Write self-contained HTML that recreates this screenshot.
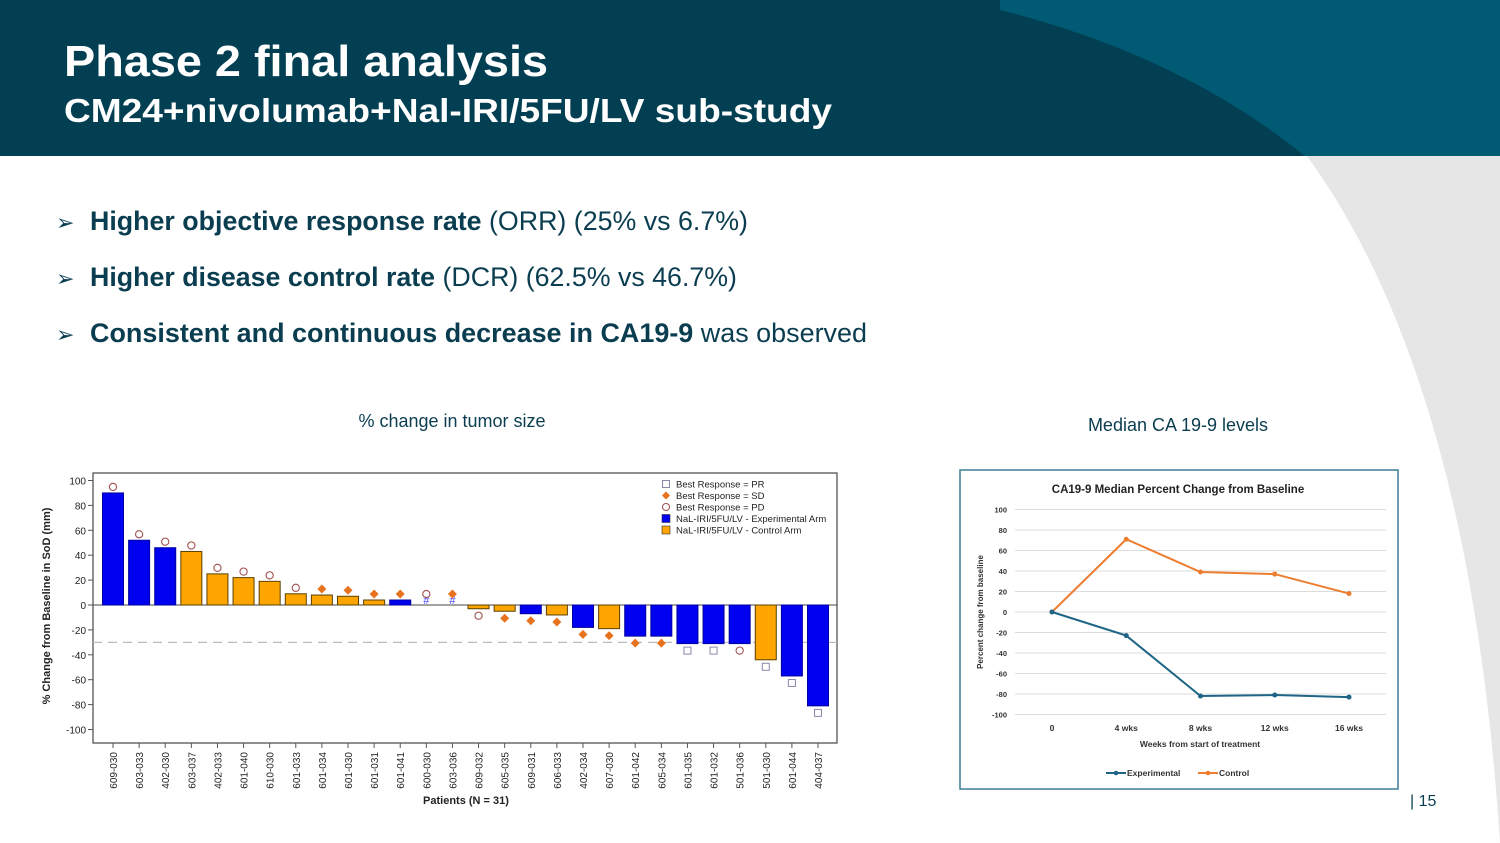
<!DOCTYPE html>
<html><head><meta charset="utf-8"><style>
html,body{margin:0;padding:0;background:#fff;}
svg{display:block;font-family:"Liberation Sans",sans-serif;}
</style></head><body>
<svg id="s" width="1500" height="843" viewBox="0 0 1500 843" xmlns="http://www.w3.org/2000/svg">
<path d="M1307,156 Q1470,380 1500,843 L1500,156 Z" fill="#e6e6e6"/>
<rect x="0" y="0" width="1500" height="156" fill="#005a73"/>
<path d="M0,0 L1000,0 L1000,10 Q1180,55 1305,156 L0,156 Z" fill="#033f52"/>
<text x="64" y="76" font-size="44" font-weight="bold" fill="#fff" textLength="484" lengthAdjust="spacingAndGlyphs">Phase 2 final analysis</text>
<text x="64" y="122" font-size="33" font-weight="bold" fill="#fff" textLength="768" lengthAdjust="spacingAndGlyphs">CM24+nivolumab+Nal-IRI/5FU/LV sub-study</text>
<g fill="#0b3d50" font-size="27">
<text x="56" y="230" font-size="22">➢</text>
<text x="90" y="230" textLength="658" lengthAdjust="spacingAndGlyphs"><tspan font-weight="bold">Higher objective response rate</tspan> (ORR) (25% vs 6.7%)</text>
<text x="56" y="286" font-size="22">➢</text>
<text x="90" y="286" textLength="647" lengthAdjust="spacingAndGlyphs"><tspan font-weight="bold">Higher disease control rate</tspan> (DCR) (62.5% vs 46.7%)</text>
<text x="56" y="342" font-size="22">➢</text>
<text x="90" y="342" textLength="777" lengthAdjust="spacingAndGlyphs"><tspan font-weight="bold">Consistent and continuous decrease in CA19-9</tspan> was observed</text>
</g>
<text x="452" y="427" font-size="18" fill="#0b3d50" text-anchor="middle">% change in tumor size</text>
<text x="1178" y="431" font-size="18" fill="#0b3d50" text-anchor="middle">Median CA 19-9 levels</text>
<text x="1410" y="806" font-size="16" fill="#0b3d50">| 15</text>
<g id="wf"></g>
<g id="lc"></g>
</svg>
<script>
const patients=["609-030","603-033","402-030","603-037","402-033","601-040","610-030","601-033","601-034","601-030","601-031","601-041","600-030","603-036","609-032","605-035","609-031","606-033","402-034","607-030","601-042","605-034","601-035","601-032","501-036","501-030","601-044","404-037"];
const changes=[90,52,46,43,25,22,19,9,8,7,4,4,0,0,-3,-5,-7,-8,-18,-19,-25,-25,-31,-31,-31,-44,-57,-81];
const arms=["E","E","E","C","C","C","C","C","C","C","C","E","E","C","C","C","E","C","E","C","E","E","E","E","E","C","E","E"];
const responses=["PD","PD","PD","PD","PD","PD","PD","PD","SD","SD","SD","SD","PD","SD","PD","SD","SD","SD","SD","SD","SD","SD","PR","PR","PD","PR","PR","PR"];
const wfTicks=[100,80,60,40,20,0,-20,-40,-60,-80,-100];
const weeks=["0","4 wks","8 wks","12 wks","16 wks"];
const expVals=[0,-23,-82,-81,-83];
const ctrlVals=[0,71,39,37,18];
const lcTicks=[100,80,60,40,20,0,-20,-40,-60,-80,-100];

const NS="http://www.w3.org/2000/svg";
function mk(p,tag,a,txt){const e=document.createElementNS(NS,tag);for(const k in a)e.setAttribute(k,a[k]);if(txt!==undefined)e.textContent=txt;p.appendChild(e);return e;}

// waterfall
const wf=document.getElementById('wf');
const L=93,R=837,T=473,B=743;
const wy=v=>605-v*1.245;
const wx=i=>113+i*(818-113)/(patients.length-1);
let e=mk(wf,'rect',{x:L,y:T,width:R-L,height:B-T,fill:'#fff',stroke:'#555','stroke-width':1.3});


wfTicks.forEach(t=>{
  let g=mk(wf,'line',{x1:L-5,x2:L,y1:wy(t),y2:wy(t),stroke:'#555'});
  
  
  let tx=mk(wf,'text',{x:L-7,y:wy(t)+4,'font-size':10,'text-anchor':'end',fill:'#222'},t);
  
  
});
e=mk(wf,'line',{x1:L,x2:R,y1:wy(-30),y2:wy(-30),stroke:'#bbb','stroke-dasharray':'9,6','stroke-width':1.2});


e=mk(wf,'line',{x1:L,x2:R,y1:wy(0),y2:wy(0),stroke:'#444'});


patients.forEach((p,i)=>{
  const v=changes[i],x=wx(i),w=21;
  if(v!==0){
    let b=mk(wf,'rect',{x:x-w/2,y:Math.min(wy(v),wy(0)),width:w,height:Math.abs(wy(v)-wy(0)),fill:arms[i]==='E'?'#0000f0':'#ffa500',stroke:arms[i]==='E'?'#0000a0':'#5a4000','stroke-width':1});
    
    
  } else {
    let h=mk(wf,'text',{x:x,y:wy(0)-1,'font-size':11,'text-anchor':'middle',fill:'#4444ff'},'#');
    
    
  }
  const my=v>0?wy(v)-6:(v<0?wy(v)+7:wy(0)-11);
  let m;
  if(responses[i]==='PD') m=mk(wf,'circle',{cx:x,cy:my,r:3.6,fill:'none',stroke:'#a05050','stroke-width':1.1});
  else if(responses[i]==='SD') m=mk(wf,'path',{d:`M${x},${my-4.5}L${x+4.5},${my}L${x},${my+4.5}L${x-4.5},${my}Z`,fill:'#e8731e'});
  else m=mk(wf,'rect',{x:x-3.5,y:my-3.5,width:7,height:7,fill:'#fff',stroke:'#8888aa','stroke-width':1});
  
  
  let tk=mk(wf,'line',{x1:x,x2:x,y1:B,y2:B+5,stroke:'#555'});
  
  
  let lb=mk(wf,'text',{x:0,y:0,'font-size':10,'text-anchor':'end',fill:'#222',transform:`translate(${x+4},${B+9}) rotate(-90)`},p);
  
  
});
e=mk(wf,'text',{x:0,y:0,'font-size':11,'font-weight':'bold','text-anchor':'middle',fill:'#222',transform:`translate(50,606) rotate(-90)`},'% Change from Baseline in SoD (mm)');


e=mk(wf,'text',{x:466,y:804,'font-size':11,'font-weight':'bold','text-anchor':'middle',fill:'#222'},'Patients (N = 31)');


const leg=[['PR','Best Response = PR'],['SD','Best Response = SD'],['PD','Best Response = PD'],['E','NaL-IRI/5FU/LV - Experimental Arm'],['C','NaL-IRI/5FU/LV - Control Arm']];
leg.forEach((l,k)=>{
  const y=484+k*11.5,x=666;
  let m;
  if(l[0]==='PR') m=mk(wf,'rect',{x:x-3.5,y:y-3.5,width:7,height:7,fill:'#fff',stroke:'#8888aa'});
  else if(l[0]==='SD') m=mk(wf,'path',{d:`M${x},${y-4}L${x+4},${y}L${x},${y+4}L${x-4},${y}Z`,fill:'#e8731e'});
  else if(l[0]==='PD') m=mk(wf,'circle',{cx:x,cy:y,r:3.5,fill:'none',stroke:'#a05050'});
  else m=mk(wf,'rect',{x:x-4,y:y-4,width:8,height:8,fill:l[0]==='E'?'#0000f0':'#ffa500',stroke:'#333','stroke-width':0.6});
  
  
  let t=mk(wf,'text',{x:x+10,y:y+3.5,'font-size':9.5,fill:'#222'},l[1]);
  
  
});

// line chart
const lc=document.getElementById('lc');
e=mk(lc,'rect',{x:960,y:470,width:438,height:319,fill:'#fff',stroke:'#3d7f95','stroke-width':1.5});


e=mk(lc,'text',{x:1178,y:493,'font-size':11.5,'font-weight':'bold','text-anchor':'middle',fill:'#222'},'CA19-9 Median Percent Change from Baseline');


const ly=v=>612-v*1.025;
const lx=i=>1052+i*(1349-1052)/(weeks.length-1);
lcTicks.forEach(t=>{
  let g=mk(lc,'line',{x1:1015,x2:1386,y1:ly(t),y2:ly(t),stroke:'#dcdcdc'});
  
  
  let tx=mk(lc,'text',{x:1007,y:ly(t)+3,'font-size':7.5,'font-weight':'bold','text-anchor':'end',fill:'#333'},t);
  
  
});
weeks.forEach((w,i)=>{
  let tx=mk(lc,'text',{x:lx(i),y:731,'font-size':8.5,'font-weight':'bold','text-anchor':'middle',fill:'#333'},w);
  
  
});
e=mk(lc,'text',{x:1200,y:747,'font-size':8.5,'font-weight':'bold','text-anchor':'middle',fill:'#333'},'Weeks from start of treatment');


e=mk(lc,'text',{x:0,y:0,'font-size':8,'font-weight':'bold','text-anchor':'middle',fill:'#333',transform:'translate(983,612) rotate(-90)'},'Percent change from baseline');


[[ctrlVals,'#ed7d31','control'],[expVals,'#1f6587','experimental']].forEach(s=>{
  let pl=mk(lc,'polyline',{points:s[0].map((v,i)=>lx(i)+','+ly(v)).join(' '),fill:'none',stroke:s[1],'stroke-width':2});
  
  
  s[0].forEach((v,i)=>{
    let c=mk(lc,'circle',{cx:lx(i),cy:ly(v),r:2.5,fill:s[1]});
    
    
  });
});
[['#1f6587','Experimental',1106],['#ed7d31','Control',1198]].forEach(l=>{
  let g=mk(lc,'line',{x1:l[2],x2:l[2]+20,y1:773,y2:773,stroke:l[0],'stroke-width':2});
  
  
  let c=mk(lc,'circle',{cx:l[2]+10,cy:773,r:2.3,fill:l[0]});
  
  
  let t=mk(lc,'text',{x:l[2]+21,y:776,'font-size':8.5,'font-weight':'bold',fill:'#333'},l[1]);
  
  
});
</script>
</body></html>
